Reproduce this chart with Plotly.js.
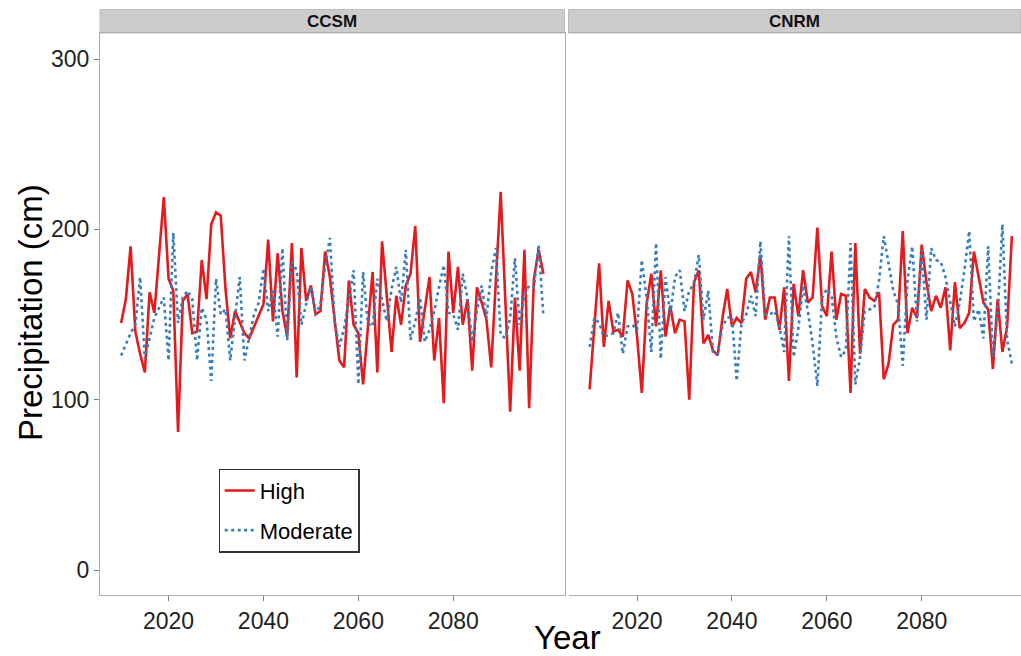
<!DOCTYPE html>
<html>
<head>
<meta charset="utf-8">
<script src="https://cdn.plot.ly/plotly-3.0.1.min.js"></script>
<style>
html, body { margin: 0; padding: 0; background: #fff; }
#chart { width: 1021px; height: 656px; }
</style>
</head>
<body>
<div id="chart"></div>
<script>
const years = [2010,2011,2012,2013,2014,2015,2016,2017,2018,2019,
  2020,2021,2022,2023,2024,2025,2026,2027,2028,2029,
  2030,2031,2032,2033,2034,2035,2036,2037,2038,2039,
  2040,2041,2042,2043,2044,2045,2046,2047,2048,2049,
  2050,2051,2052,2053,2054,2055,2056,2057,2058,2059,
  2060,2061,2062,2063,2064,2065,2066,2067,2068,2069,
  2070,2071,2072,2073,2074,2075,2076,2077,2078,2079,
  2080,2081,2082,2083,2084,2085,2086,2087,2088,2089,
  2090,2091,2092,2093,2094,2095,2096,2097,2098,2099];

const models = ["CCSM", "CNRM"];
const scenarios = ["High", "Moderate"];

const ccsmHigh = [145,159,190,140,127,116,163,151,185,219,
  171,164,81,158,162,139,140,182,159,203,
  210,208,165,136,152,145,139,136,143,150,
  156,194,146,186,152,137,192,113,189,158,
  167,150,152,187,172,147,123,119,170,144,
  139,109,140,175,116,193,161,128,161,144,
  167,174,202,134,153,172,123,148,98,187,
  151,178,144,159,117,166,157,147,119,170,
  222,157,93,160,117,188,95,171,188,174];

const ccsmModerate = [126,133,139,144,172,124,137,148,154,160,
  123,198,145,160,164,159,123,154,147,111,
  171,150,153,123,148,172,123,137,150,157,
  177,152,165,137,189,135,181,176,144,156,
  166,150,156,178,195,146,131,142,158,176,
  109,175,145,143,171,159,146,165,178,157,
  188,135,146,160,134,141,152,166,179,151,
  150,141,174,160,134,152,167,148,175,189,
  138,136,148,183,144,162,167,166,191,149];

const cnrmHigh = [106,143,180,131,158,140,141,137,170,162,
  137,104,156,174,143,176,137,155,139,147,
  146,100,169,176,133,138,129,126,148,165,
  143,148,145,171,175,163,185,147,160,160,
  141,166,111,168,149,176,157,160,201,155,
  149,187,147,162,161,104,192,127,165,160,
  158,163,112,121,144,147,199,139,154,148,
  191,169,152,161,154,166,129,169,142,145,
  151,187,172,157,153,118,159,128,143,196];

const cnrmModerate = [131,148,145,137,138,139,151,127,143,144,
  141,182,160,128,192,124,172,150,172,176,
  152,164,168,185,147,164,128,127,143,148,
  149,111,145,150,161,149,193,150,150,152,
  143,128,196,125,142,167,152,133,108,160,
  165,161,137,125,129,192,109,125,152,153,
  154,170,196,180,164,156,120,170,190,146,
  188,147,189,182,181,172,157,143,157,176,
  199,146,153,136,190,125,150,203,135,121];

const yTicks = [0, 100, 200, 300];
const xTicks = [2020, 2040, 2060, 2080];

const RED = "#E41A1C";
const BLUE = "#377EB8";
const FONT = "Liberation Sans, Arial, Helvetica, sans-serif";

function tr(y, name, axis, color, dash, show) {
  return {
    x: years, y: y, type: "scatter", mode: "lines", name: name,
    legendgroup: name, showlegend: show,
    xaxis: axis === 1 ? "x" : "x2", yaxis: "y",
    line: { color: color, width: 2.6, dash: dash }
  };
}

const data = [
  tr(ccsmHigh, scenarios[0], 1, RED, "solid", true),
  tr(ccsmModerate, scenarios[1], 1, BLUE, "3px,3.5px", true),
  tr(cnrmHigh, scenarios[0], 2, RED, "solid", false),
  tr(cnrmModerate, scenarios[1], 2, BLUE, "3px,3.5px", false)
];

const L = 100, T = 33, PW = 921, PH = 562;
const d1 = [0, (564.5 - L) / PW];
const d2 = [(568.5 - L) / PW, 1];
const pxPerYear = 464.5 / 97.9;
const x2max = 2005.55 + 452.5 / pxPerYear;

const axisBase = {
  showgrid: false, zeroline: false, showline: true, mirror: true,
  linecolor: "#ADADAD", linewidth: 1,
  ticks: "outside", ticklen: 5, tickcolor: "#7F7F7F", tickwidth: 1,
  tickfont: { family: FONT, size: 23, color: "#222222" }
};

const stripTop = 1 + (T - 9.5) / PH;
const shapes = [d1, d2].map(d => ({
  type: "rect", xref: "paper", yref: "paper",
  x0: d[0], x1: d[1], y0: 1, y1: stripTop,
  fillcolor: "#CCCCCC", line: { color: "#BDBDBD", width: 1 }, layer: "below"
}));

const annotations = [
  { text: "<b>" + models[0] + "</b>", xref: "paper", yref: "paper",
    x: (d1[0] + d1[1]) / 2, y: (1 + stripTop) / 2, showarrow: false,
    font: { family: FONT, size: 17, color: "#111" }, xanchor: "center", yanchor: "middle" },
  { text: "<b>" + models[1] + "</b>", xref: "paper", yref: "paper",
    x: (d2[0] + d2[1]) / 2, y: (1 + stripTop) / 2, showarrow: false,
    font: { family: FONT, size: 17, color: "#111" }, xanchor: "center", yanchor: "middle" },
  { text: "Year", xref: "paper", yref: "paper",
    x: (567 - L) / PW, y: -(637 - 595) / PH, showarrow: false,
    font: { family: FONT, size: 33, color: "#000" }, xanchor: "center", yanchor: "middle" },
  { text: "Precipitation (cm)", xref: "paper", yref: "paper", textangle: -90,
    x: (30 - L) / PW, y: (595 - 313) / PH, showarrow: false,
    font: { family: FONT, size: 33, color: "#000" }, xanchor: "center", yanchor: "middle" }
];

const layout = {
  width: 1021, height: 656,
  margin: { l: L, r: 0, t: T, b: 656 - T - PH, pad: 0 },
  paper_bgcolor: "#FFFFFF", plot_bgcolor: "#FFFFFF",
  font: { family: FONT },
  showlegend: true,
  legend: {
    x: (218.5 - L) / PW, y: (595 - 468.5) / PH, xanchor: "left", yanchor: "top",
    bgcolor: "#FFFFFF", bordercolor: "#333333", borderwidth: 1.2,
    font: { family: FONT, size: 22, color: "#000" },
    itemwidth: 30, tracegroupgap: 8
  },
  xaxis: Object.assign({}, axisBase, {
    domain: d1, range: [2005.55, 2103.45], tickvals: xTicks, anchor: "y"
  }),
  xaxis2: Object.assign({}, axisBase, {
    domain: d2, range: [2005.55, x2max], tickvals: xTicks, anchor: "y"
  }),
  yaxis: Object.assign({}, axisBase, {
    domain: [0, 1], range: [-14.68, 315.3], tickvals: yTicks, anchor: "x"
  }),
  shapes: shapes,
  annotations: annotations
};

Plotly.newPlot("chart", data, layout, { displayModeBar: false, staticPlot: true });
</script>
</body>
</html>
